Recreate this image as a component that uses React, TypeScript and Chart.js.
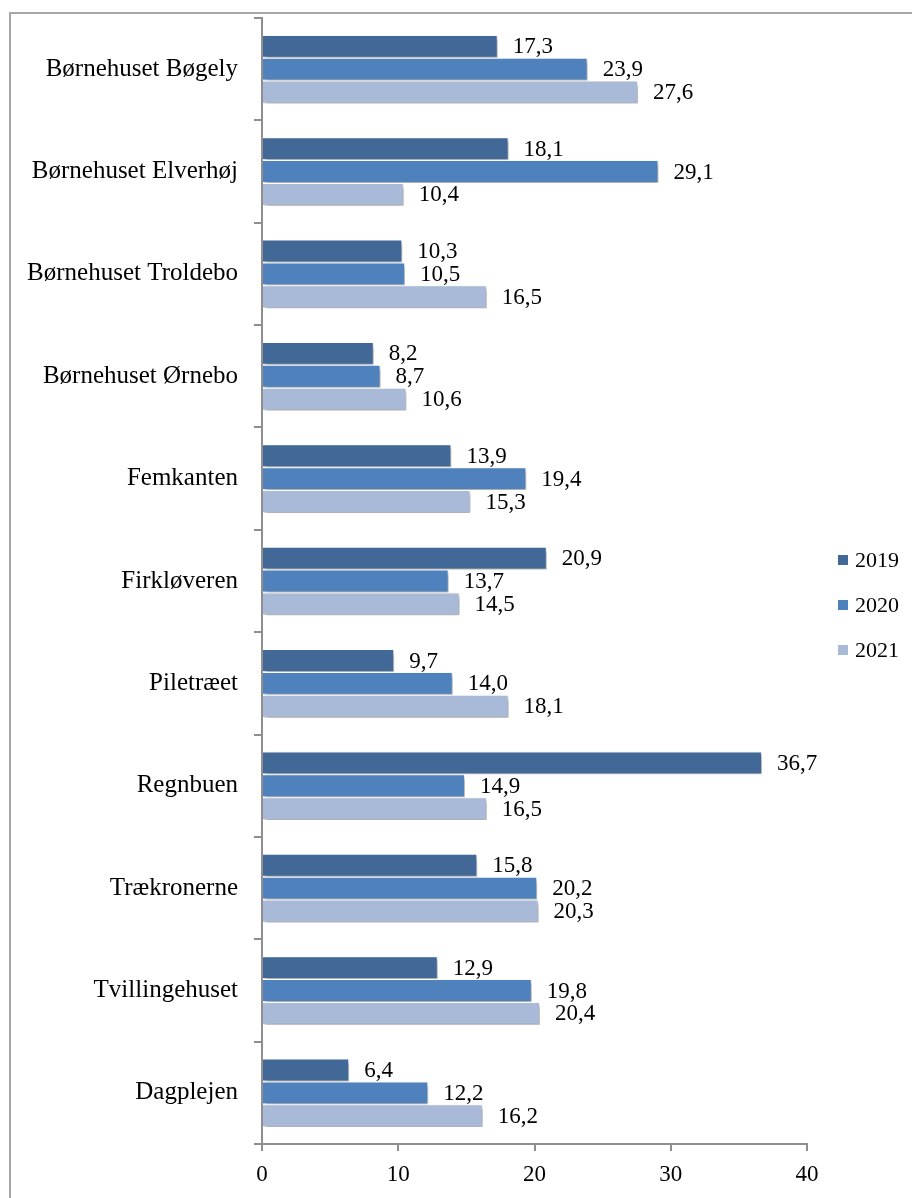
import React, { useEffect, useRef } from 'react';
import { Chart, registerables } from 'chart.js';

Chart.register(...registerables);

const categories = [
  'Børnehuset Bøgely',
  'Børnehuset Elverhøj',
  'Børnehuset Troldebo',
  'Børnehuset Ørnebo',
  'Femkanten',
  'Firkløveren',
  'Piletræet',
  'Regnbuen',
  'Trækronerne',
  'Tvillingehuset',
  'Dagplejen',
];
const seriesLabels = ['2019', '2020', '2021'];
const values2019 = [17.3, 18.1, 10.3, 8.2, 13.9, 20.9, 9.7, 36.7, 15.8, 12.9, 6.4];
const values2020 = [23.9, 29.1, 10.5, 8.7, 19.4, 13.7, 14.0, 14.9, 20.2, 19.8, 12.2];
const values2021 = [27.6, 10.4, 16.5, 10.6, 15.3, 14.5, 18.1, 16.5, 20.3, 20.4, 16.2];
const seriesColors = ['#416897', '#4f81bd', '#a9b9d8'];
const xMin = 0;
const xMax = 40;
const xStep = 10;

const FONT = '"Liberation Serif", "Times New Roman", serif';
const AXIS_COLOR = '#8f8f8f';

const shadowPlugin = {
  id: 'barShadow',
  beforeDatasetsDraw(chart: any) {
    const ctx = chart.ctx;
    ctx.save();
    ctx.shadowColor = 'rgba(0,0,0,0.35)';
    ctx.shadowBlur = 4;
    ctx.shadowOffsetX = 2;
    ctx.shadowOffsetY = 3;
  },
  afterDatasetsDraw(chart: any) {
    chart.ctx.restore();
  },
};

const valueLabelPlugin = {
  id: 'valueLabels',
  afterDraw(chart: any) {
    const ctx = chart.ctx;
    ctx.save();
    ctx.font = `23px ${FONT}`;
    ctx.fillStyle = '#000';
    ctx.textAlign = 'left';
    ctx.textBaseline = 'middle';
    chart.data.datasets.forEach((ds: any, i: number) => {
      const meta = chart.getDatasetMeta(i);
      meta.data.forEach((el: any, j: number) => {
        const v = ds.data[j] as number;
        ctx.fillText(v.toFixed(1).replace('.', ','), el.x + 15, el.y + 1);
      });
    });
    ctx.restore();
  },
};

const customLegendPlugin = {
  id: 'customLegend',
  afterDraw(chart: any) {
    const ctx = chart.ctx;
    const area = chart.chartArea;
    const n = chart.data.datasets.length;
    const spacing = 45;
    const centerY = (area.top + area.bottom) / 2 + 24;
    const boxX = area.right + 31;
    ctx.save();
    ctx.font = `22px ${FONT}`;
    ctx.textAlign = 'left';
    ctx.textBaseline = 'middle';
    chart.data.datasets.forEach((ds: any, i: number) => {
      const y = centerY + (i - (n - 1) / 2) * spacing;
      ctx.fillStyle = ds.backgroundColor;
      ctx.fillRect(boxX, y - 5, 10, 10);
      ctx.fillStyle = '#000';
      ctx.fillText(ds.label, boxX + 17, y + 1);
    });
    ctx.restore();
  },
};

export default function App() {
  const canvasRef = useRef<HTMLCanvasElement | null>(null);

  useEffect(() => {
    if (!canvasRef.current) return;
    const seriesValues = [values2019, values2020, values2021];
    const chart = new Chart(canvasRef.current, {
      type: 'bar',
      data: {
        labels: categories,
        datasets: seriesLabels.map((label, i) => ({
          label,
          data: seriesValues[i],
          backgroundColor: seriesColors[i],
          borderColor: '#ffffff',
          borderWidth: 1,
          categoryPercentage: 0.67,
          barPercentage: 1.0,
        })),
      },
      options: {
        indexAxis: 'y',
        responsive: false,
        animation: false,
        layout: { padding: { top: 4, right: 105, left: 0, bottom: 0 } },
        plugins: {
          legend: { display: false },
          tooltip: { enabled: false },
        },
        scales: {
          x: {
            min: xMin,
            max: xMax,
            ticks: {
              stepSize: xStep,
              color: '#000',
              font: { family: FONT, size: 23 },
              padding: 10,
            },
            grid: {
              drawOnChartArea: false,
              drawTicks: true,
              tickLength: 7,
              color: AXIS_COLOR,
              lineWidth: 2,
            },
            border: { display: true, color: AXIS_COLOR, width: 2 },
            afterFit(scale: any) {
              scale.height = 54;
              scale.paddingLeft = 0;
              scale.paddingRight = 0;
            },
          },
          y: {
            ticks: {
              color: '#000',
              font: { family: FONT, size: 25 },
              padding: 16,
            },
            grid: {
              drawOnChartArea: false,
              drawTicks: true,
              tickLength: 8,
              color: AXIS_COLOR,
              lineWidth: 2,
              offset: true,
            },
            border: { display: true, color: AXIS_COLOR, width: 2 },
            afterFit(scale: any) {
              scale.width = 251;
              scale.paddingTop = 0;
              scale.paddingBottom = 0;
            },
          },
        },
      } as any,
      plugins: [shadowPlugin, valueLabelPlugin, customLegendPlugin],
    });
    return () => chart.destroy();
  }, []);

  return (
    <div
      style={{
        position: 'fixed',
        left: 9,
        top: 12,
        right: 0,
        bottom: 0,
        borderLeft: '2px solid #a6a6a6',
        borderTop: '2px solid #a6a6a6',
        background: '#ffffff',
        overflow: 'hidden',
      }}
    >
      <canvas ref={canvasRef} width={901} height={1184} style={{ display: 'block' }} />
    </div>
  );
}
